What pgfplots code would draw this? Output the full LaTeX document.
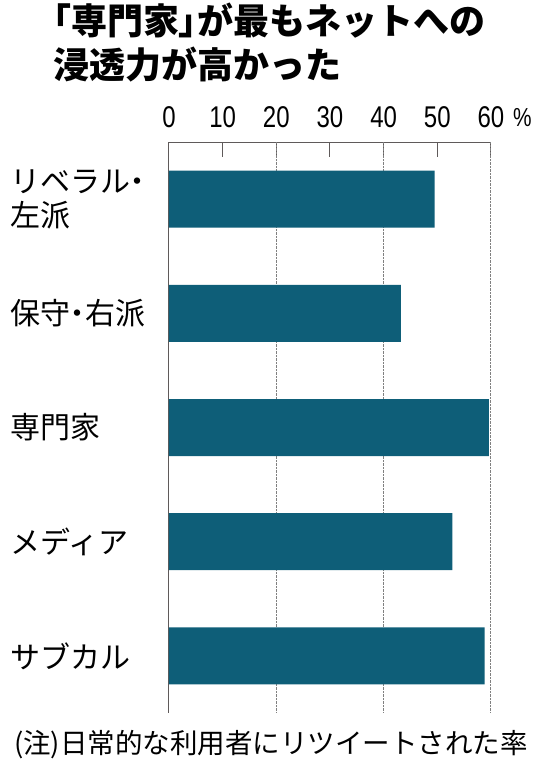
\documentclass[border=0pt]{standalone}
\usepackage{fontspec}
\usepackage{pgfplots}
\pgfplotsset{compat=1.18}
\setmainfont{Noto Sans CJK JP}
\newfontfamily\jp{Noto Sans CJK JP}
\newfontfamily\jpp[RawFeature=+palt]{Noto Sans CJK JP}
\newfontfamily\tickfont[FakeStretch=0.8]{Liberation Sans}
\definecolor{barblue}{RGB}{14,94,120}
\definecolor{axisgray}{RGB}{95,90,90}

\begin{document}
\begin{tikzpicture}
\path[use as bounding box] (-169pt,-61pt) rectangle (386pt,713pt);
\begin{axis}[
  scale only axis,
  width=322pt, height=571pt,
  xbar, bar width=57pt,
  xmin=0, xmax=60, ymin=0.5, ymax=5.5,
  y dir=reverse,
  axis x line=top, axis y line=left,
  axis line style={-, axisgray, line width=1pt},
  tick align=inside,
  major tick length=15pt,
  xtick={0,10,...,60},
  x tick style={axisgray, line width=1pt},
  /pgf/number format/assume math mode=true,
  xticklabel style={font=\tickfont\fontsize{30}{30}\selectfont, anchor=base, yshift=15pt, inner sep=0pt},
  ytick={1,2,3,4,5},
  yticklabels={{リベラル{\jpp ・}\\左派},保守{\jpp ・}右派,専門家,メディア,サブカル},
  yticklabel style={font=\jp\fontsize{30}{34}\selectfont, align=left, anchor=west, xshift=-159pt, inner sep=0pt},
  y tick style={draw=none},
  extra x ticks={20,40,60},
  extra x tick labels={},
  extra x tick style={grid=major, major tick length=0pt},
  grid style={gray, densely dotted, line width=1pt},
]
\addplot[fill=barblue, draw=none] coordinates {(49.5,1) (43.2,2) (59.6,3) (52.8,4) (58.8,5)};
\end{axis}
\node[anchor=base west, inner sep=0pt, font=\tickfont\fontsize{26}{26}\selectfont] at (344pt,586pt) {\%};
\node[anchor=base west, inner sep=0pt, font=\jp\bfseries\fontsize{36}{36}\selectfont] at (-116pt,678pt) {{\jpp\bfseries 「}専門家{\jpp\bfseries 」}が最もネットへの};
\node[anchor=base west, inner sep=0pt, font=\jp\bfseries\fontsize{36}{36}\selectfont] at (-116pt,634pt) {浸透力が高かった};
\node[anchor=base west, inner sep=0pt, font=\jp\fontsize{27.5}{27.5}\selectfont] at (-155pt,-40pt) {(注)日常的な利用者にリツイートされた率};
\end{tikzpicture}
\end{document}
